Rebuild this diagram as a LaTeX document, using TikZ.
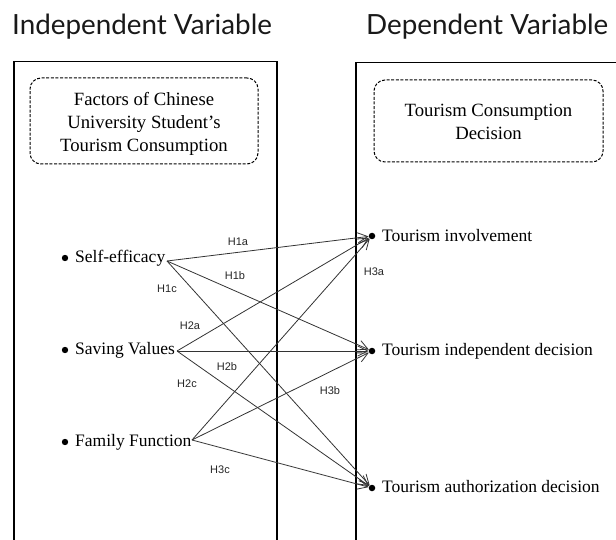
\documentclass[tikz,border=0pt]{standalone}
\usepackage{fontspec}
\setmainfont{Liberation Serif}
\newfontfamily\hfont{Lato}
\newfontfamily\lblfont{Liberation Sans}
\usetikzlibrary{arrows.meta}
\begin{document}
\begin{tikzpicture}[x=1pt,y=-1pt,
  panel/.style={line width=1.5pt,black},
  titlebox/.style={draw,dashed,dash pattern=on 3pt off 1.6pt,line width=1pt,rounded corners=11pt,inner sep=0pt},
  titletext/.style={align=center,font=\fontsize{18.7}{23}\selectfont,inner sep=0pt},
  header/.style={font=\hfont\fontsize{27.8}{30}\selectfont,text=black!90,anchor=west,inner sep=0pt},
  varlabel/.style={font=\fontsize{17.5}{20}\selectfont,anchor=west,inner sep=0pt},
  dotnode/.style={circle,fill=black,inner sep=0pt,minimum size=6.5pt},
  hyp/.style={font=\lblfont\fontsize{11}{12}\selectfont,text=black!85,inner sep=0pt},
  link/.style={draw=black!80,line width=0.8pt,-{Straight Barb[length=10pt,width=10pt]}}
]
\useasboundingbox (0,0) rectangle (616,540);
% headers
\node[header] (hl) at (12,27) {Independent Variable};
\node[header] (hr) at (366,27) {Dependent Variable};
% panels
\draw[panel] (14,545) -- (14,61.5) -- (277,61.5) -- (277,545);
\draw[panel] (356,545) -- (356,62.5) -- (620,62.5);
% title boxes
\node[titlebox,minimum width=228pt,minimum height=86pt] (tl) at (144,121) {};
\node[titletext] (tlt) at (144,124) {Factors of Chinese\\University Student's\\Tourism Consumption};
\node[titlebox,minimum width=229pt,minimum height=82pt] (tr) at (488.5,121) {};
\node[titletext] (trt) at (488.5,122) {Tourism Consumption\\Decision};
% independent variables
\fill (65,258) circle (3.2pt);
\fill (65,350) circle (3.2pt);
\fill (65,442) circle (3.2pt);
\node[varlabel] (se) at (75,258) {Self-efficacy};
\node[varlabel] (sv) at (75,350) {Saving Values};
\node[varlabel] (ff) at (75,442) {Family Function};
\coordinate (seo) at (167,261);
\coordinate (svo) at (177,351);
\coordinate (ffo) at (192,440);
% dependent variables
\node[dotnode] (ti) at (372,236) {};
\node[dotnode] (td) at (372,351) {};
\node[dotnode] (ta) at (372,488) {};
\node[varlabel] (til) at (382,236) {Tourism involvement};
\node[varlabel] (tdl) at (382,351) {Tourism independent decision};
\node[varlabel] (tal) at (382,487) {Tourism authorization decision};
% links
\draw[link] (seo) -- (ti);
\draw[link] (seo) -- (td);
\draw[link] (seo) -- (ta);
\draw[link] (svo) -- (ti);
\draw[link] (svo) -- (td);
\draw[link] (svo) -- (ta);
\draw[link] (ffo) -- (ti);
\draw[link] (ffo) -- (td);
\draw[link] (ffo) -- (ta);
% hypothesis labels
\node[hyp] (h1a) at (238,242) {H1a};
\node[hyp] (h1b) at (235,276) {H1b};
\node[hyp] (h1c) at (167,289) {H1c};
\node[hyp] (h2a) at (190,326) {H2a};
\node[hyp] (h2b) at (227,367) {H2b};
\node[hyp] (h2c) at (187,384) {H2c};
\node[hyp] (h3a) at (374,272) {H3a};
\node[hyp] (h3b) at (330,391) {H3b};
\node[hyp] (h3c) at (220,470) {H3c};
\end{tikzpicture}
\end{document}
